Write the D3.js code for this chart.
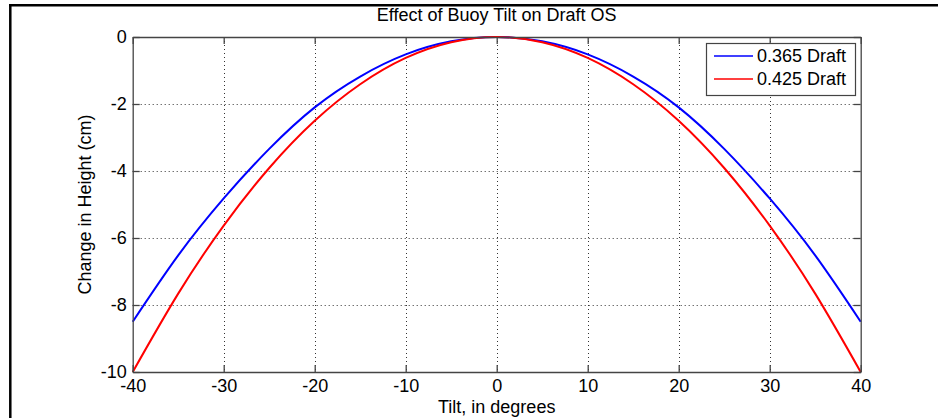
<!DOCTYPE html>
<html>
<head>
<meta charset="utf-8">
<script src="https://cdn.jsdelivr.net/npm/d3@7"></script>
<style>
  html, body { margin: 0; padding: 0; background: #fff; }
  svg { display: block; }
  text { font-family: "Liberation Sans", Arial, Helvetica, sans-serif; fill: #000; }
</style>
</head>
<body>
<svg id="chart" width="938" height="418"></svg>
<script>
// Tilt angles (degrees) and height change (cm) for the two draft settings
const tilt        = [-40, -35, -30, -25, -20, -15, -10, -5, 0, 5, 10, 15, 20, 25, 30, 35, 40];
const draft0365   = [-8.5, -6.52, -4.82, -3.34, -2.1, -1.18, -0.52, -0.13, 0, -0.13, -0.52, -1.18, -2.1, -3.34, -4.82, -6.52, -8.5];
const draft0425   = [-10, -7.66, -5.63, -3.91, -2.5, -1.41, -0.625, -0.156, 0, -0.156, -0.625, -1.41, -2.5, -3.91, -5.63, -7.66, -10];
const seriesNames = ["0.365 Draft", "0.425 Draft"];
const xTicks      = [-40, -30, -20, -10, 0, 10, 20, 30, 40];
const yTicks      = [0, -2, -4, -6, -8, -10];
const titleText   = "Effect of Buoy Tilt on Draft OS";
const xLabelText  = "Tilt, in degrees";
const yLabelText  = "Change in Height (cm)";

const svg = d3.select("#chart");
const W = 938, H = 418;
const plot = { left: 132.7, right: 860.7, top: 37, bottom: 372 };
const fontSize = 18;
const axisColor = "#444";
const plain = d => String(d);   // hyphen-minus labels

const x = d3.scaleLinear().domain([-40, 40]).range([plot.left, plot.right]);
const y = d3.scaleLinear().domain([-10, 0]).range([plot.bottom, plot.top]);

// Figure frame (top and left edges)
svg.append("line").attr("x1", 9).attr("x2", W).attr("y1", 5.2).attr("y2", 5.2)
  .attr("stroke", "#000").attr("stroke-width", 2.5);
svg.append("line").attr("x1", 10.3).attr("x2", 10.3).attr("y1", 4).attr("y2", H)
  .attr("stroke", "#000").attr("stroke-width", 2.5);

// Dotted grid
const grid = svg.append("g").attr("stroke", "#333").attr("stroke-width", 1)
  .attr("stroke-dasharray", "1,3");
grid.selectAll("line.gx").data(xTicks.filter(d => d > -40 && d < 40)).join("line")
  .attr("x1", d => Math.round(x(d)) + 0.5).attr("x2", d => Math.round(x(d)) + 0.5)
  .attr("y1", plot.top).attr("y2", plot.bottom);
grid.selectAll("line.gy").data(yTicks.filter(d => d < 0 && d > -10)).join("line")
  .attr("y1", d => Math.round(y(d)) + 0.5).attr("y2", d => Math.round(y(d)) + 0.5)
  .attr("x1", plot.left).attr("x2", plot.right);

// Series lines
const line = d3.line().x(d => x(d[0])).y(d => y(d[1])).curve(d3.curveNatural);
const series = [
  { name: seriesNames[0], values: draft0365, color: "#0000ff" },
  { name: seriesNames[1], values: draft0425, color: "#ff0000" }
];
svg.append("g").selectAll("path").data(series).join("path")
  .attr("fill", "none")
  .attr("stroke", d => d.color)
  .attr("stroke-width", 2)
  .attr("d", d => line(tilt.map((t, i) => [t, d.values[i]])));

// Axes with inward ticks on all four sides
const tickLen = 7;
function styleAxis(g) {
  g.select(".domain").attr("stroke", axisColor).attr("stroke-width", 1.3);
  g.selectAll(".tick line").attr("stroke", axisColor).attr("stroke-width", 1.3);
  g.selectAll(".tick text").attr("font-size", fontSize).attr("fill", "#000")
    .attr("font-family", "'Liberation Sans', Arial, Helvetica, sans-serif");
}
svg.append("g").attr("transform", `translate(0,${plot.bottom})`)
  .call(d3.axisBottom(x).tickValues(xTicks).tickFormat(plain).tickSize(-tickLen).tickSizeOuter(0).tickPadding(7))
  .call(styleAxis);
svg.append("g").attr("transform", `translate(0,${plot.top})`)
  .call(d3.axisTop(x).tickValues(xTicks).tickSize(-tickLen).tickSizeOuter(0).tickFormat(""))
  .call(styleAxis);
svg.append("g").attr("transform", `translate(${plot.left},0)`)
  .call(d3.axisLeft(y).tickValues(yTicks).tickFormat(plain).tickSize(-tickLen).tickSizeOuter(0).tickPadding(6))
  .call(styleAxis);
svg.append("g").attr("transform", `translate(${plot.right},0)`)
  .call(d3.axisRight(y).tickValues(yTicks).tickSize(-tickLen).tickSizeOuter(0).tickFormat(""))
  .call(styleAxis);

// Title and axis labels
svg.append("text").attr("x", (plot.left + plot.right) / 2).attr("y", 20.5)
  .attr("text-anchor", "middle").attr("font-size", fontSize).text(titleText);
svg.append("text").attr("x", (plot.left + plot.right) / 2).attr("y", 413)
  .attr("text-anchor", "middle").attr("font-size", fontSize).text(xLabelText);
svg.append("text")
  .attr("transform", `translate(91,${(plot.top + plot.bottom) / 2}) rotate(-90)`)
  .attr("text-anchor", "middle").attr("font-size", fontSize).text(yLabelText);

// Legend
const legend = svg.append("g");
legend.append("rect").attr("x", 706.5).attr("y", 43.5).attr("width", 149).attr("height", 52)
  .attr("fill", "#fff").attr("stroke", axisColor).attr("stroke-width", 1.2);
const rows = legend.selectAll("g.row").data(series).join("g")
  .attr("transform", (d, i) => `translate(0,${56 + i * 23})`);
rows.append("line").attr("x1", 714).attr("x2", 753).attr("y1", 0).attr("y2", 0)
  .attr("stroke", d => d.color).attr("stroke-width", 1.5);
rows.append("text").attr("x", 757).attr("y", 0).attr("dy", "0.36em")
  .attr("font-size", fontSize).text(d => d.name);
</script>
</body>
</html>
